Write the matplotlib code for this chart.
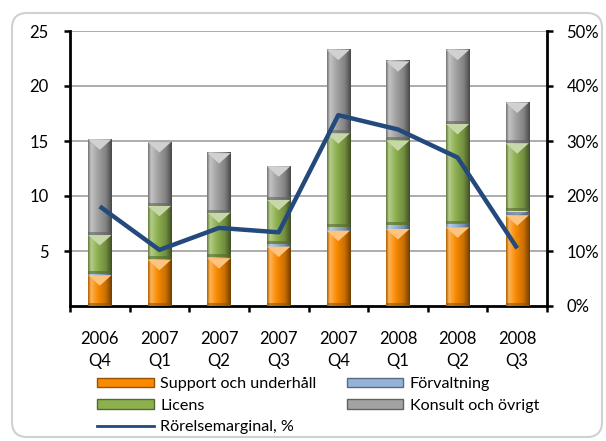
import matplotlib
matplotlib.use('Agg')
import matplotlib.pyplot as plt
import numpy as np
from matplotlib.patches import FancyBboxPatch, Patch
from matplotlib.lines import Line2D
from matplotlib.colors import LinearSegmentedColormap, to_rgb

plt.rcParams['font.family'] = ['Lato', 'DejaVu Sans']

quarters = ['2006\nQ4', '2007\nQ1', '2007\nQ2', '2007\nQ3',
            '2007\nQ4', '2008\nQ1', '2008\nQ2', '2008\nQ3']
support = [2.8, 4.2, 4.35, 5.4, 6.85, 7.0, 7.15, 8.25]
forvaltning = [0.1, 0.1, 0.1, 0.2, 0.3, 0.35, 0.35, 0.4]
licens = [3.55, 4.8, 4.05, 4.05, 8.55, 7.7, 9.05, 6.15]
konsult = [8.7, 5.8, 5.4, 3.05, 7.6, 7.2, 6.75, 3.7]
margin = [18.1, 10.2, 14.2, 13.4, 34.7, 32.1, 27.0, 10.5]

left_ticks = [5, 10, 15, 20, 25]
right_ticks = [0, 10, 20, 30, 40, 50]

series = [
    ('Support och underhåll', support, '#FA8A00'),
    ('Förvaltning', forvaltning, '#95B3D7'),
    ('Licens', licens, '#8DB04F'),
    ('Konsult och övrigt', konsult, '#A3A3A3'),
]
line_color = '#24497C'

fig = plt.figure(figsize=(6.06, 4.41), dpi=100)
fig.patch.set_facecolor('white')
border = FancyBboxPatch((12 / 606, 4 / 441), 590 / 606, 424 / 441,
                        boxstyle='round,pad=0,rounding_size=0.025',
                        mutation_aspect=606 / 441,
                        transform=fig.transFigure, facecolor='white',
                        edgecolor='#D0D0D0', linewidth=1.5, zorder=-10)
fig.patches.append(border)

ax = fig.add_axes([70 / 606, 1 - 306 / 441, 477 / 606, 275 / 441])
ax.set_facecolor('none')
x = np.arange(len(quarters))
width = 0.39
ax.set_xlim(-0.5, len(quarters) - 0.5)
ax.set_ylim(0, 25)


def shade_cmap(c):
    r = np.array(to_rgb(c))
    light = np.clip(r + (1 - r) * 0.35, 0, 1)
    return LinearSegmentedColormap.from_list(
        'b', [(0, r * 0.7), (0.12, light), (0.4, r), (0.75, r * 0.8), (1, r * 0.45)])


# pixel scale to make the top bevel triangle look right
px_per_x = 477 / len(quarters)
px_per_y = 275 / 25

bottom = np.zeros(len(quarters))
handles = {}
for name, vals, col in series:
    vals = np.array(vals)
    bars = ax.bar(x, vals, width, bottom=bottom, color=col, edgecolor='none', zorder=2)
    cmap = shade_cmap(col)
    r = np.array(to_rgb(col))
    light = np.clip(r + (1 - r) * 0.5, 0, 1)
    grad = np.linspace(0, 1, 64).reshape(1, -1)
    for b in bars:
        bx, by, bw, bh = b.get_x(), b.get_y(), b.get_width(), b.get_height()
        ax.imshow(grad, extent=[bx, bx + bw, by, by + bh], aspect='auto',
                  cmap=cmap, zorder=3, interpolation='bilinear')
        tri_h = min(bw * px_per_x * 0.45 / px_per_y, bh)
        if bh * px_per_y > 4:
            ax.fill([bx, bx + bw, bx + bw / 2], [by + bh, by + bh, by + bh - tri_h],
                    color=light, zorder=4, linewidth=0)
            dh = min(3 / px_per_y, bh)
            ax.fill([bx, bx + bw, bx + bw, bx], [by, by, by + dh, by + dh],
                    color=r * 0.6, zorder=4, linewidth=0, alpha=0.6)
    bottom = bottom + vals
    handles[name] = Patch(facecolor=col, edgecolor=r * 0.6, linewidth=1)

ax.set_xlim(-0.5, len(quarters) - 0.5)
ax.set_ylim(0, 25)
ax.set_yticks(left_ticks)
ax.yaxis.grid(True, color='#A6A6A6', linewidth=1.3, zorder=0)
ax.set_axisbelow(True)

ax.set_xticks(np.arange(-0.5, len(quarters), 1.0))
ax.set_xticklabels([])
ax.set_xticks(x, minor=True)
ax.set_xticklabels(quarters, minor=True, fontsize=12, linespacing=1.45)
ax.tick_params(axis='x', which='major', length=4.5, width=1.8, direction='out')
ax.tick_params(axis='x', which='minor', length=0, pad=18)
ax.tick_params(axis='y', length=4.5, width=1.8, direction='out', pad=11, labelsize=12)

for s in ['top', 'right']:
    ax.spines[s].set_visible(False)
ax.spines['left'].set_linewidth(2)
ax.spines['bottom'].set_linewidth(2)

ax2 = ax.twinx()
ax2.set_ylim(0, 50)
ax2.set_yticks(right_ticks)
ax2.set_yticklabels([f'{v}%' for v in right_ticks])
ax2.tick_params(axis='y', length=4.5, width=1.8, direction='out', pad=9.5, labelsize=12)
for s in ['top', 'left', 'bottom']:
    ax2.spines[s].set_visible(False)
ax2.spines['right'].set_linewidth(2)
ax2.plot(x, margin, color=line_color, linewidth=3.2, zorder=5, solid_capstyle='butt')

line_handle = Line2D([], [], color=line_color, linewidth=2)
leg_handles = [handles['Support och underhåll'], handles['Licens'], line_handle,
               handles['Förvaltning'], handles['Konsult och övrigt']]
leg_labels = ['Support och underhåll', 'Licens', 'Rörelsemarginal, %',
              'Förvaltning', 'Konsult och övrigt']
fig.legend(leg_handles, leg_labels, ncol=2, loc='upper left',
           bbox_to_anchor=(86 / 606, 1 - 366 / 441), frameon=False, fontsize=11.6,
           handlelength=3.5, handleheight=0.55, handletextpad=0.4,
           columnspacing=1.9, labelspacing=0.45, borderpad=0.2)

fig.savefig('out.png', dpi=100, facecolor='white')
